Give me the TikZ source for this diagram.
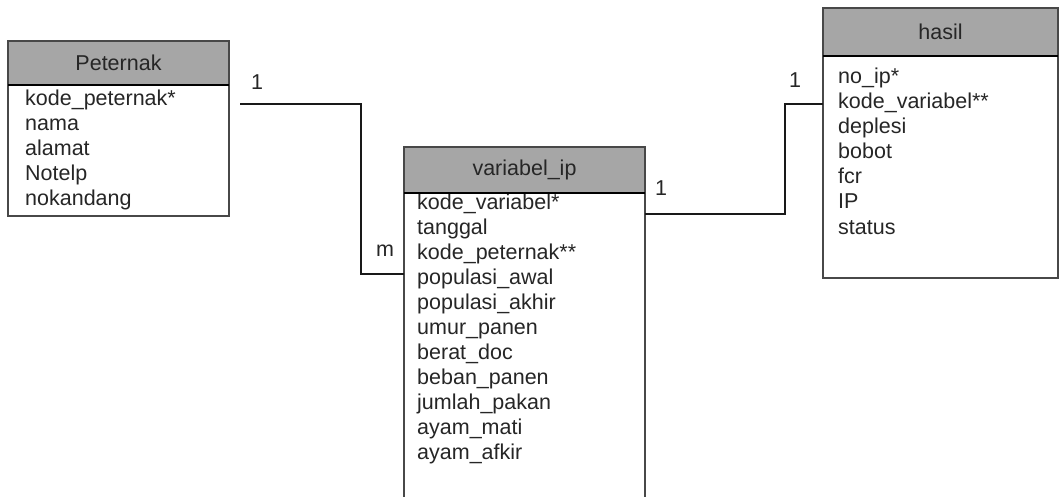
\documentclass[tikz,border=0pt]{standalone}
\usepackage{fontspec}
\setmainfont{Liberation Sans}
\usetikzlibrary{positioning}

\definecolor{headgray}{RGB}{166,166,166}
\definecolor{edgegray}{RGB}{72,72,72}

\begin{document}
\begin{tikzpicture}[x=1pt, y=-1pt,
    every node/.style={font=\fontsize{21.5}{25}\selectfont, text=black!85},
    tblhead/.style={rectangle, draw=edgegray, line width=1.5pt, fill=headgray, inner sep=0pt, outer sep=0pt},
    tblbody/.style={rectangle, draw=edgegray, line width=1.5pt, fill=white, inner sep=0pt, outer sep=0pt},
    field/.style={anchor=west, inner sep=0pt, text height=15pt, text depth=4pt},
    card/.style={inner sep=0pt},
    link/.style={line width=1.5pt, black!90}]

    \useasboundingbox (0,0) rectangle (1061,497);
    \clip (0,0) rectangle (1061,497);

    % Peternak table
    \node[tblhead, anchor=north west, minimum width=221pt, minimum height=44pt]
        (peternak) at (8,41) {Peternak};
    \node[tblbody, minimum width=221pt, minimum height=131pt, below=0pt of peternak]
        (peternak body) {};
    \foreach \f [count=\i from 0] in {kode\_peternak*, nama, alamat, Notelp, nokandang}
        \node[field] (pt-f\i) at (25,100+25*\i) {\f};

    % variabel_ip table (runs off the bottom edge)
    \node[tblhead, anchor=north west, minimum width=241pt, minimum height=46pt]
        (variabel) at (404,147) {variabel\_ip};
    \node[tblbody, minimum width=241pt, minimum height=320pt, below=0pt of variabel]
        (variabel body) {};
    \foreach \f [count=\i from 0] in {kode\_variabel*, tanggal, kode\_peternak**,
        populasi\_awal, populasi\_akhir, umur\_panen, berat\_doc, beban\_panen,
        jumlah\_pakan, ayam\_mati, ayam\_afkir}
        \node[field] (vi-f\i) at (417,204+25*\i) {\f};

    % hasil table
    \node[tblhead, anchor=north west, minimum width=235pt, minimum height=48pt]
        (hasil) at (823,8) {hasil};
    \node[tblbody, minimum width=235pt, minimum height=222pt, below=0pt of hasil]
        (hasil body) {};
    \foreach \f [count=\i from 0] in {no\_ip*, kode\_variabel**, deplesi, bobot, fcr, IP, status}
        \node[field] (hs-f\i) at (838,78+25.1*\i) {\f};

    % header separators
    \foreach \t in {peternak, variabel, hasil}
        \draw[line width=2pt, black] (\t.south west) -- (\t.south east);

    % relations
    \coordinate (pt-out) at (240,104);
    \coordinate (vi-in) at (variabel body.west |- 0,274);
    \coordinate (vi-out) at (variabel body.east |- 0,214);
    \coordinate (hs-in) at (hasil body.west |- 0,104);
    \draw[link] (pt-out) -- ++(121,0) |- (vi-in);
    \draw[link] (vi-out) -- ++(140,0) |- (hs-in);

    % cardinalities
    \node[card] (pt-card) at (257,82) {1};
    \node[card] (vi-card-m) at (385,251) {m};
    \node[card] (vi-card) at (661,188) {1};
    \node[card] (hs-card) at (795,80) {1};
\end{tikzpicture}
\end{document}
